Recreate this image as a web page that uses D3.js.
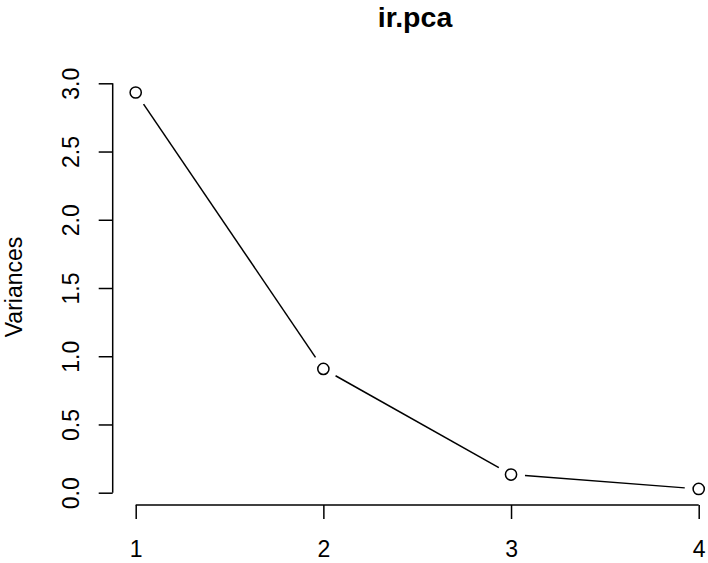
<!DOCTYPE html>
<html>
<head>
<meta charset="utf-8">
<script src="https://cdn.jsdelivr.net/npm/d3@7"></script>
<style>
  html, body { margin: 0; padding: 0; background: #fff; }
  svg text { font-family: "Liberation Sans", Arial, sans-serif; fill: #000; }
</style>
</head>
<body>
<svg id="chart" width="708" height="563"></svg>
<script>
// Scree plot of the principal components
const title = "ir.pca";
const yLabel = "Variances";
const components = [1, 2, 3, 4];
const variances = [2.9327, 0.9071, 0.1330, 0.0275];
const yTicks = [0.0, 0.5, 1.0, 1.5, 2.0, 2.5, 3.0];
const xTicks = [1, 2, 3, 4];

const svg = d3.select("#chart");
const x = d3.scaleLinear().domain([1, 4]).range([135.7, 698.7]);
const y = d3.scaleLinear().domain([0, 3]).range([492.7, 83.3]);

const ink = "#000";
const lw = 1.5;

// y axis
const yAxis = d3.axisLeft(y).tickValues(yTicks).tickSize(14).tickPadding(0).tickFormat(d3.format(".1f"));
const gy = svg.append("g").attr("transform", "translate(112.7,0)").call(yAxis);
gy.select(".domain").attr("d", `M0,${y(0)}V${y(3)}`).attr("stroke", ink).attr("stroke-width", lw);
gy.selectAll(".tick line").attr("stroke", ink).attr("stroke-width", lw);
gy.selectAll(".tick text")
  .attr("x", null).attr("dy", null)
  .attr("transform", "translate(-34,0) rotate(-90)")
  .attr("text-anchor", "middle")
  .attr("font-size", 23);

// x axis
const xAxis = d3.axisBottom(x).tickValues(xTicks).tickSize(14).tickPadding(0).tickFormat(d3.format("d"));
const gx = svg.append("g").attr("transform", "translate(0,505)").call(xAxis);
gx.select(".domain").attr("d", `M${x(1)},0H${x(4)}`).attr("stroke", ink).attr("stroke-width", lw);
gx.selectAll(".tick line").attr("stroke", ink).attr("stroke-width", lw);
gx.selectAll(".tick text").attr("y", 52).attr("dy", null).attr("font-size", 23);

svg.selectAll(".tick text").attr("fill", ink).style("font-family", '"Liberation Sans", Arial, sans-serif');

// connecting segments, trimmed short of each point marker
const gap = 14;
const pts = components.map((c, i) => [x(c), y(variances[i])]);
const segs = d3.pairs(pts).map(([a, b]) => {
  const dx = b[0] - a[0], dy = b[1] - a[1];
  const len = Math.hypot(dx, dy);
  const ux = dx / len, uy = dy / len;
  return [[a[0] + ux * gap, a[1] + uy * gap], [b[0] - ux * gap, b[1] - uy * gap]];
});
svg.append("g").selectAll("line").data(segs).join("line")
  .attr("x1", d => d[0][0]).attr("y1", d => d[0][1])
  .attr("x2", d => d[1][0]).attr("y2", d => d[1][1])
  .attr("stroke", ink).attr("stroke-width", lw);

// point markers
svg.append("g").selectAll("circle").data(components).join("circle")
  .attr("cx", d => x(d))
  .attr("cy", (d, i) => y(variances[i]))
  .attr("r", 5.6)
  .attr("fill", "none")
  .attr("stroke", ink)
  .attr("stroke-width", lw);

// title
svg.append("text")
  .attr("x", 415).attr("y", 27)
  .attr("text-anchor", "middle")
  .attr("font-size", 28.5)
  .attr("font-weight", "bold")
  .text(title);

// y axis label
svg.append("text")
  .attr("transform", "translate(22,287) rotate(-90)")
  .attr("text-anchor", "middle")
  .attr("font-size", 23)
  .text(yLabel);
</script>
</body>
</html>
